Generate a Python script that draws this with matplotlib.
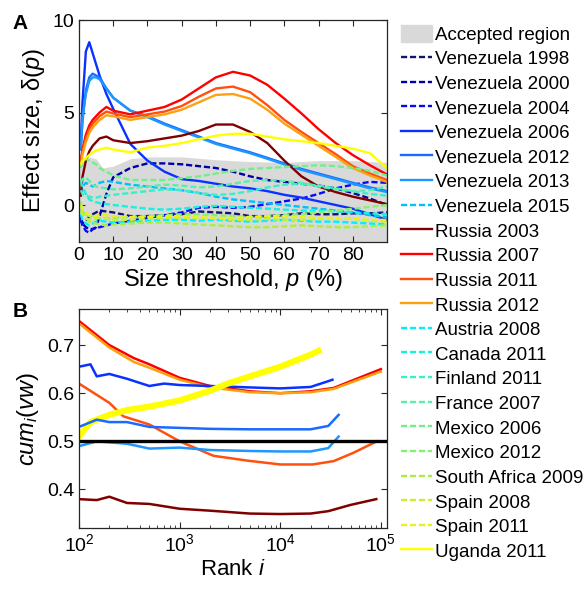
import numpy as np
import matplotlib
matplotlib.use("Agg")
import matplotlib.pyplot as plt
from matplotlib.patches import Patch
from matplotlib.ticker import LogLocator, NullFormatter

plt.rcParams['font.family'] = ['Liberation Sans', 'DejaVu Sans']
plt.rcParams['mathtext.fontset'] = 'custom'
plt.rcParams['mathtext.rm'] = 'Liberation Sans'
plt.rcParams['mathtext.it'] = 'Liberation Sans:italic'

# ---- panel A: effect size vs size threshold ----
p = [0.5, 1, 2, 3, 4, 5, 6, 8, 10, 15, 20, 25, 30, 35, 40, 45, 50, 55, 60, 65, 70, 75, 80, 85, 90]

region_p = [0, 3, 5, 7, 10, 15, 20, 30, 40, 50, 60, 70, 80, 90]
region_hi = [2.2, 2.6, 2.5, 2.0, 2.1, 2.5, 2.6, 2.6, 2.45, 2.35, 2.3, 2.4, 2.4, 2.3]

ven1998 = [-0.8, -1.0, -0.9, -0.6, -0.5, -0.4, -0.3, -0.35, -0.4, -0.6, -0.6, -0.55, -0.5, -0.35, -0.4, -0.45, -0.6, -0.6, -0.55, -0.45, -0.5, -0.5, -0.45, -0.45, -0.4]
ven2000 = [-0.6, -1.0, -1.2, -1.3, -1.3, -1.2, -0.6, 0.6, 1.5, 2.0, 2.25, 2.25, 2.2, 2.1, 2.0, 1.8, 1.55, 1.35, 1.25, 1.15, 1.05, 0.9, 0.65, 0.35, 0.0]
ven2004 = [-0.8, -1.1, -1.4, -1.5, -1.3, -1.25, -1.2, -1.1, -1.0, -0.85, -0.7, -0.55, -0.4, -0.15, -0.1, -0.15, -0.1, 0.05, 0.2, 0.35, 0.6, 0.9, 1.1, 1.25, 1.2]
ven2006 = [3.2, 5.5, 8.3, 8.8, 8.2, 7.6, 7.0, 6.0, 5.2, 3.3, 2.4, 1.8, 1.4, 1.3, 1.15, 1.0, 0.9, 0.75, 0.55, 0.4, 0.2, 0.0, -0.2, -0.5, -0.8]
ven2012 = [3.0, 4.5, 6.2, 6.9, 7.1, 7.0, 6.9, 6.3, 5.8, 5.1, 4.8, 4.4, 4.05, 3.7, 3.35, 3.1, 2.85, 2.55, 2.25, 1.95, 1.7, 1.45, 1.2, 0.95, 0.75]
ven2013 = [3.0, 4.7, 6.0, 6.7, 6.9, 6.9, 6.8, 6.3, 5.8, 5.1, 4.75, 4.35, 4.0, 3.65, 3.3, 3.05, 2.8, 2.5, 2.2, 1.9, 1.65, 1.4, 1.15, 0.9, 0.7]
ven2015 = [0.6, 1.0, 1.2, 1.1, 1.0, 1.1, 1.2, 1.3, 1.25, 1.1, 1.0, 0.9, 0.8, 0.65, 0.45, 0.3, 0.2, 0.1, 0.0, -0.1, -0.2, -0.3, -0.4, -0.55, -0.65]
rus2003 = [0.5, 1.5, 2.4, 2.9, 3.2, 3.4, 3.6, 3.7, 3.5, 3.35, 3.45, 3.6, 3.75, 4.0, 4.35, 4.35, 3.95, 3.35, 2.4, 1.55, 1.0, 0.7, 0.45, 0.25, 0.05]
rus2007 = [2.3, 3.0, 3.8, 4.3, 4.6, 4.8, 5.0, 5.3, 5.1, 4.9, 5.1, 5.3, 5.7, 6.3, 6.9, 7.2, 7.0, 6.5, 5.75, 4.95, 4.1, 3.35, 2.7, 2.15, 1.65]
rus2011 = [2.2, 2.9, 3.6, 4.1, 4.4, 4.6, 4.8, 5.05, 4.95, 4.75, 4.9, 5.05, 5.35, 5.85, 6.3, 6.4, 6.1, 5.4, 4.6, 3.95, 3.35, 2.75, 2.1, 1.7, 1.35]
rus2012 = [2.1, 2.7, 3.4, 3.9, 4.2, 4.4, 4.6, 4.85, 4.8, 4.6, 4.75, 4.9, 5.15, 5.55, 5.95, 6.0, 5.75, 5.15, 4.4, 3.8, 3.2, 2.6, 2.0, 1.6, 1.25]
aut2008 = [-0.5, -0.8, -1.0, -1.1, -1.0, -0.9, -0.85, -0.9, -0.95, -0.9, -0.85, -0.8, -0.8, -0.85, -0.8, -0.85, -0.9, -0.85, -0.8, -0.85, -0.9, -0.9, -0.95, -1.0, -1.05]
can2011 = [1.3, 1.0, 0.6, 0.3, 0.2, 0.15, 0.1, 0.05, 0.0, -0.1, -0.2, -0.25, -0.2, -0.1, -0.05, -0.1, -0.15, -0.2, -0.25, -0.3, -0.3, -0.35, -0.4, -0.45, -0.5]
fin2011 = [0.8, 0.6, 0.5, 0.45, 0.4, 0.4, 0.45, 0.5, 0.55, 0.65, 0.75, 0.85, 0.8, 0.65, 0.55, 0.6, 0.75, 0.95, 1.1, 1.15, 1.05, 0.9, 0.75, 0.6, 0.5]
fra2007 = [1.2, 1.4, 1.5, 1.3, 1.1, 1.0, 0.95, 0.9, 0.85, 0.9, 1.0, 1.1, 1.05, 0.95, 1.0, 1.15, 1.3, 1.35, 1.3, 1.2, 1.0, 0.85, 0.75, 0.8, 1.0]
mex2006 = [2.0, 2.3, 2.5, 2.4, 2.3, 2.2, 2.0, 1.8, 1.6, 1.35, 1.35, 1.35, 1.45, 1.55, 1.7, 1.85, 1.95, 2.0, 2.05, 2.1, 2.15, 2.1, 2.0, 1.85, 1.6]
mex2012 = [-0.2, -0.4, -0.5, -0.6, -0.65, -0.7, -0.7, -0.75, -0.7, -0.65, -0.6, -0.55, -0.5, -0.5, -0.55, -0.6, -0.65, -0.6, -0.55, -0.5, -0.4, -0.3, -0.2, -0.1, 0.0]
saf2009 = [0.2, -0.3, -0.7, -0.9, -1.0, -1.0, -1.05, -1.1, -1.05, -1.0, -0.95, -0.95, -1.0, -1.05, -1.1, -1.15, -1.2, -1.2, -1.15, -1.1, -1.15, -1.2, -1.2, -1.15, -1.1]
spa2008 = [-0.3, -0.5, -0.7, -0.8, -0.8, -0.75, -0.7, -0.75, -0.8, -0.8, -0.75, -0.7, -0.7, -0.7, -0.75, -0.8, -0.8, -0.75, -0.8, -0.8, -0.75, -0.7, -0.75, -0.85, -0.9]
spa2011 = [0.0, -0.2, -0.4, -0.55, -0.6, -0.6, -0.55, -0.55, -0.6, -0.65, -0.65, -0.6, -0.6, -0.65, -0.7, -0.7, -0.65, -0.6, -0.6, -0.65, -0.7, -0.7, -0.75, -0.8, -0.8]
uga2011 = [2.2, 2.4, 2.55, 2.7, 2.85, 2.95, 3.0, 3.1, 3.0, 2.85, 3.1, 3.2, 3.35, 3.55, 3.75, 3.85, 3.85, 3.7, 3.55, 3.45, 3.35, 3.2, 3.05, 2.8, 2.0]

# (label, data, colour, dashed)
series_a = [
    ('Venezuela 1998', ven1998, '#14146e', True),
    ('Venezuela 2000', ven2000, '#0000a8', True),
    ('Venezuela 2004', ven2004, '#0808ff', True),
    ('Venezuela 2006', ven2006, '#0a32ff', False),
    ('Venezuela 2012', ven2012, '#1a6aff', False),
    ('Venezuela 2013', ven2013, '#1e96ff', False),
    ('Venezuela 2015', ven2015, '#00c0ff', True),
    ('Russia 2003', rus2003, '#800000', False),
    ('Russia 2007', rus2007, '#ff0000', False),
    ('Russia 2011', rus2011, '#ff5010', False),
    ('Russia 2012', rus2012, '#ffa010', False),
    ('Austria 2008', aut2008, '#00f0ff', True),
    ('Canada 2011', can2011, '#18f0e0', True),
    ('Finland 2011', fin2011, '#38f0c8', True),
    ('France 2007', fra2007, '#58f0a8', True),
    ('Mexico 2006', mex2006, '#70f088', True),
    ('Mexico 2012', mex2012, '#88f070', True),
    ('South Africa 2009', saf2009, '#a8f040', True),
    ('Spain 2008', spa2008, '#c8f030', True),
    ('Spain 2011', spa2011, '#e8f020', True),
    ('Uganda 2011', uga2011, '#ffff00', False),
]

# ---- panel B: cumulative vote share vs rank ----
rank_r07 = [100, 200, 350, 500, 1000, 2000, 5000, 1e4, 2e4, 3.4e4, 5e4, 1e5]
cum_r07 = [0.75, 0.70, 0.673, 0.66, 0.632, 0.615, 0.604, 0.60, 0.604, 0.611, 0.625, 0.65]
rank_r12 = [100, 200, 350, 500, 1000, 2000, 5000, 1e4, 2e4, 3.4e4, 5e4, 1e5]
cum_r12 = [0.745, 0.695, 0.665, 0.653, 0.628, 0.612, 0.602, 0.60, 0.602, 0.609, 0.622, 0.645]
rank_v06 = [100, 130, 150, 200, 300, 500, 700, 1000, 2000, 5000, 1e4, 2e4, 3e4, 3.3e4]
cum_v06 = [0.655, 0.66, 0.635, 0.64, 0.63, 0.615, 0.62, 0.617, 0.615, 0.612, 0.61, 0.613, 0.625, 0.628]
rank_r11 = [100, 200, 276, 500, 1000, 2170, 4700, 1e4, 2.1e4, 3.4e4, 5.3e4, 9.1e4]
cum_r11 = [0.62, 0.58, 0.552, 0.535, 0.50, 0.47, 0.46, 0.452, 0.452, 0.459, 0.476, 0.50]
rank_u11 = [100, 130, 200, 300, 500, 1000, 2000, 3000, 5000, 1e4, 2e4, 2.4e4]
cum_u11 = [0.51, 0.54, 0.555, 0.565, 0.572, 0.585, 0.605, 0.62, 0.635, 0.655, 0.68, 0.688]
rank_v12 = [100, 150, 200, 300, 500, 1000, 2000, 5000, 1e4, 2e4, 3e4, 3.8e4]
cum_v12 = [0.53, 0.545, 0.54, 0.54, 0.53, 0.528, 0.526, 0.525, 0.525, 0.525, 0.532, 0.555]
rank_v13 = [100, 150, 300, 500, 1000, 2000, 5000, 1e4, 2e4, 3e4, 3.8e4]
cum_v13 = [0.49, 0.50, 0.495, 0.485, 0.487, 0.482, 0.48, 0.479, 0.479, 0.486, 0.51]
rank_r03 = [100, 150, 200, 300, 500, 1000, 2000, 5000, 1e4, 2e4, 3e4, 5e4, 9e4]
cum_r03 = [0.38, 0.378, 0.385, 0.372, 0.37, 0.36, 0.356, 0.35, 0.349, 0.35, 0.355, 0.368, 0.38]

fig = plt.figure(figsize=(5.87, 5.92), dpi=100)
axA = fig.add_axes([0.1346, 0.5912, 0.5247, 0.375])
axB = fig.add_axes([0.1346, 0.1081, 0.5247, 0.370])

axA.fill_between(region_p, -2.5, region_hi, color='#d9d9d9', lw=0)
handles = [Patch(color='#d9d9d9', label='Accepted region')]
for name, vals, col, dashed in series_a:
    ls = (0, (2.6, 1.2)) if dashed else '-'
    ln, = axA.plot(p, vals, color=col, lw=1.7, ls=ls, label=name)
    handles.append(ln)

axA.set_xlim(0, 90)
axA.set_ylim(-2, 10)
axA.set_xticks(range(0, 81, 10))
axA.set_yticks([0, 5, 10])
axA.set_xlabel('Size threshold, $\\it{p}$ (%)', fontsize=17, labelpad=2)
axA.set_ylabel('Effect size, δ($\\it{p}$)', fontsize=17, labelpad=4)

axB.plot(rank_r07, cum_r07, color='#ff0000', lw=1.8)
axB.plot(rank_r12, cum_r12, color='#ffa010', lw=1.8)
axB.plot(rank_v06, cum_v06, color='#0a32ff', lw=1.8)
axB.plot(rank_r11, cum_r11, color='#ff5010', lw=1.8)
axB.plot(rank_u11, cum_u11, color='#ffff00', lw=4.5)
axB.plot(rank_v12, cum_v12, color='#1a6aff', lw=1.8)
axB.plot(rank_v13, cum_v13, color='#1e96ff', lw=1.8)
axB.plot(rank_r03, cum_r03, color='#800000', lw=1.8)
axB.axhline(0.5, color='black', lw=2.4)

axB.set_xscale('log')
axB.set_xlim(100, 1.15e5)
axB.set_ylim(0.32, 0.775)
axB.set_yticks([0.4, 0.5, 0.6, 0.7])
axB.set_yticklabels(['0.4', '0.5', '0.6', '0.7'])
axB.xaxis.set_minor_locator(LogLocator(base=10, subs=np.arange(2, 10), numticks=20))
axB.xaxis.set_minor_formatter(NullFormatter())
axB.set_xlabel('Rank $\\it{i}$', fontsize=16, labelpad=3)
axB.set_ylabel('$\\it{cum_i(vw)}$', fontsize=17, labelpad=4)

for ax in (axA, axB):
    ax.tick_params(which='both', direction='in', top=True, right=True,
                   labelsize=14, color='#262626')
    ax.tick_params(which='major', length=4, width=0.8)
    ax.tick_params(which='minor', length=2, width=0.6)
    for s in ax.spines.values():
        s.set_color('#262626')
        s.set_linewidth(0.9)

fig.text(0.022, 0.977, 'A', fontsize=15, fontweight='bold', va='top')
fig.text(0.022, 0.49, 'B', fontsize=15, fontweight='bold', va='top')

fig.legend(handles=handles, loc='upper left', bbox_to_anchor=(0.683, 0.958),
           frameon=False, fontsize=13.5, handlelength=1.65, handleheight=1.0,
           handletextpad=0.15, labelspacing=0.31, borderpad=0, borderaxespad=0)

fig.savefig('out.png', dpi=100)
